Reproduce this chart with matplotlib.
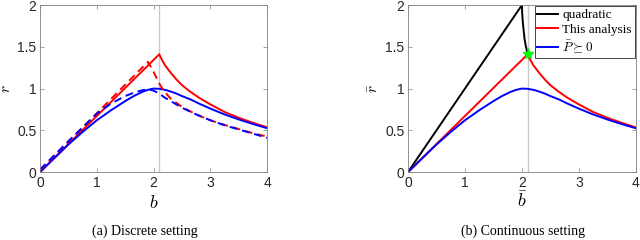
import matplotlib
matplotlib.use("Agg")
import matplotlib.pyplot as plt

plt.rcParams['font.family'] = ['Liberation Sans', 'DejaVu Sans']
plt.rcParams['mathtext.fontset'] = 'cm'

# (a) discrete setting
red_b = [0, 2.1, 2.15, 2.2, 2.3, 2.4, 2.5, 2.65, 2.8, 3.0, 3.25, 3.5, 3.75, 4.0]
red_r = [0.0, 1.41, 1.34, 1.28, 1.19, 1.11, 1.04, 0.96, 0.89, 0.81, 0.72, 0.65, 0.59, 0.535]
blue_b = [0, 0.25, 0.5, 0.75, 1.0, 1.25, 1.5, 1.65, 1.8, 1.9, 2.0, 2.1, 2.2, 2.3, 2.4,
          2.5, 2.65, 2.8, 3.0, 3.25, 3.5, 3.75, 4.0]
blue_r = [0, 0.165, 0.33, 0.48, 0.62, 0.74, 0.85, 0.91, 0.96, 0.985, 1.0, 0.997, 0.985,
          0.965, 0.94, 0.91, 0.87, 0.82, 0.76, 0.69, 0.63, 0.575, 0.525]
red_d_b = [0, 1.9, 2.0, 2.1, 2.17, 2.3, 2.5, 2.75, 3.0, 3.25, 3.5, 3.75, 4.0]
red_d_r = [0.02, 1.32, 1.20, 1.06, 0.98, 0.88, 0.78, 0.69, 0.62, 0.565, 0.515, 0.465, 0.425]
blue_d_b = [0, 0.5, 1.0, 1.25, 1.5, 1.65, 1.8, 1.9, 2.0, 2.1, 2.2, 2.3, 2.5, 2.75,
            3.0, 3.25, 3.5, 3.75, 4.0]
blue_d_r = [0.03, 0.37, 0.70, 0.82, 0.91, 0.95, 0.98, 0.99, 0.975, 0.94, 0.89, 0.85,
            0.77, 0.69, 0.62, 0.56, 0.51, 0.46, 0.41]

# (b) continuous setting
quad_b = [0, 2.0, 2.005, 2.015, 2.03, 2.045, 2.065, 2.085, 2.1]
quad_r = [0, 2.0, 1.9, 1.8, 1.7, 1.6, 1.52, 1.46, 1.41]
b_star = 2.1
r_star = 1.41

xticks = [0, 1, 2, 3, 4]
yticks = [0, 0.5, 1, 1.5, 2]
yticklabels = ['0', '0.5', '1', '1.5', '2']

fig = plt.figure(figsize=(6.4, 2.4), dpi=100)
ax1 = fig.add_axes([0.0625, 0.283, 0.355, 0.696])
ax2 = fig.add_axes([0.6375, 0.283, 0.356, 0.696])

for ax in (ax1, ax2):
    ax.axvline(b_star, color='#c8c8c8', lw=1.0, zorder=1)
    ax.set_xlim(0, 4)
    ax.set_ylim(0, 2)
    ax.set_xticks(xticks)
    ax.set_xticklabels([str(t) for t in xticks])
    ax.set_yticks(yticks)
    ax.set_yticklabels(yticklabels)
    ax.tick_params(direction='in', top=True, right=True, labelsize=10,
                   length=3, width=0.5, color='#808080', labelcolor='#262626', pad=2.5)
    for s in ax.spines.values():
        s.set_linewidth(0.6)
        s.set_color('#808080')

lw = 1.4
dash = (0, (4, 2.5))
ax1.plot(red_b, red_r, color='red', lw=lw)
ax1.plot(blue_b, blue_r, color='blue', lw=lw)
ax1.plot(red_d_b, red_d_r, color='red', lw=lw, linestyle=dash)
ax1.plot(blue_d_b, blue_d_r, color='blue', lw=lw, linestyle=dash)
ax1.set_xlabel('$b$', fontsize=13, labelpad=4)
ax1.set_ylabel('$r$', fontsize=11, labelpad=3)

ax2.plot(quad_b, quad_r, color='black', lw=lw, label='quadratic')
ax2.plot(red_b, red_r, color='red', lw=lw, label='This analysis')
ax2.plot(blue_b, blue_r, color='blue', lw=lw, label=r'$\bar{P}\succeq 0$')
ax2.plot([b_star], [r_star], marker='*', color='#00ff00', markersize=8, zorder=5)
ax2.set_xlabel(r'$\bar{b}$', fontsize=13, labelpad=1)
ax2.set_ylabel(r'$\bar{r}$', fontsize=11, labelpad=3)
leg = ax2.legend(loc='upper right', prop={'family': 'Liberation Serif', 'size': 9.5},
                 frameon=True, fancybox=False, framealpha=1, edgecolor='#262626',
                 handlelength=1.6, handletextpad=0.3, borderpad=0.2,
                 labelspacing=0.2, borderaxespad=0.1)
leg.get_frame().set_linewidth(0.6)

fig.text(145 / 640, 1 - 231 / 240, '(a) Discrete setting', ha='center', va='center',
         family='Liberation Serif', fontsize=10)
fig.text(523 / 640, 1 - 231 / 240, '(b) Continuous setting', ha='center', va='center',
         family='Liberation Serif', fontsize=10)

fig.savefig('out.png', dpi=100)
